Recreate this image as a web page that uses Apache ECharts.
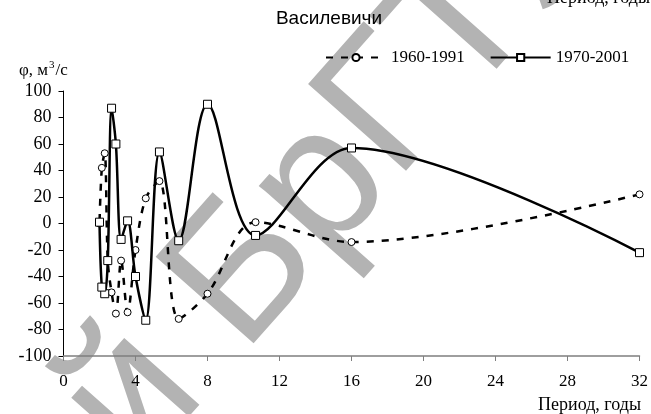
<!DOCTYPE html>
<html>
<head>
<meta charset="utf-8">
<script src="https://cdn.jsdelivr.net/npm/echarts@6/dist/echarts.min.js"></script>
<style>html,body{margin:0;padding:0;background:#fff;}#c{width:651px;height:414px;}</style>
</head>
<body>
<div id="c"></div>
<script>
// Period, years (x)
const periods = [32, 16, 10.67, 8, 6.4, 5.33, 4.57, 4, 3.56, 3.2, 2.91, 2.67, 2.46, 2.29, 2.13, 2.0];
// phi, m3/s
const phi1960 = [22, -14, 1, -53, -72, 32, 19, -20, -67, -28, -68, -52, -28, 53, 42, 0];
const phi1970 = [-22, 57, -9, 90, -13, 54, -73, -40, 2, -12, 60, 87, -28, -53, -48, 1];
const seriesNames = ['1960-1991', '1970-2001'];
const titleText = 'Василевичи';
const xName = 'Период, годы';
const watermarkLeft = 'Репозиторий ';
const watermarkRight = 'БрГТУ';

const serif = '"Liberation Serif", "Times New Roman", serif';
const sans = '"Liberation Sans", Arial, sans-serif';

const chart = echarts.init(document.getElementById('c'), null, {renderer: 'canvas'});
const rot = 48.5 * Math.PI / 180;
const wmStyle = {fontFamily: sans, fontSize: 190, fill: '#b3b3b3'};
chart.setOption({
  animation: false,
  backgroundColor: '#fff',
  grid: {left: 63.5, right: 11.5, top: 91, bottom: 58},
  legend: {
    data: seriesNames,
    left: 320, top: 44,
    itemWidth: 60, itemHeight: 9, itemGap: 25,
    textStyle: {fontFamily: serif, fontSize: 17, color: '#000'}
  },
  xAxis: {
    type: 'value', min: 0, max: 32, interval: 4,
    axisLine: {show: true, onZero: false, lineStyle: {color: '#7f7f7f', width: 1.5}},
    axisTick: {show: true, length: 5, lineStyle: {color: '#7f7f7f'}},
    splitLine: {show: false},
    axisLabel: {fontFamily: serif, fontSize: 17, color: '#000', margin: 17}
  },
  yAxis: {
    type: 'value', min: -100, max: 100, interval: 20,
    axisLine: {show: true, onZero: false, lineStyle: {color: '#000', width: 1}},
    axisTick: {show: true, length: 5, lineStyle: {color: '#000'}},
    splitLine: {show: false},
    axisLabel: {fontFamily: serif, fontSize: 18, color: '#000', margin: 12}
  },
  graphic: [
    {type: 'text', z: 0, x: 203.9, y: 320.4, rotation: rot,
     style: Object.assign({text: watermarkLeft, align: 'right', verticalAlign: 'middle'}, wmStyle)},
    {type: 'text', z: 0, x: 203.9, y: 320.4, rotation: rot,
     style: Object.assign({text: watermarkRight, align: 'left', verticalAlign: 'middle'}, wmStyle)},
    {type: 'text', z: 10, x: 329, y: 19,
     style: {text: titleText, fontFamily: sans, fontSize: 19, fill: '#000', align: 'center', verticalAlign: 'middle'}},
    {type: 'text', z: 10, x: 19, y: 71,
     style: {text: '{a|φ, м}{s|3}{a|/с}', fontFamily: serif, fill: '#000', verticalAlign: 'middle',
       rich: {a: {fontFamily: serif, fontSize: 17, fill: '#000'}, s: {fontFamily: serif, fontSize: 11, fill: '#000', padding: [0, 1, 12, 1]}}}},
    {type: 'text', z: 10, x: 641, y: 405,
     style: {text: xName, fontFamily: serif, fontSize: 18, fill: '#000', align: 'right', verticalAlign: 'middle'}},
    {type: 'text', z: 10, x: 650, y: -2,
     style: {text: xName, fontFamily: serif, fontSize: 18, fill: '#000', align: 'right', verticalAlign: 'middle'}}
  ],
  series: [
    {
      name: seriesNames[0], type: 'line', z: 3,
      data: periods.map((p, i) => [p, phi1960[i]]),
      smooth: 0.33,
      symbol: 'circle', symbolSize: 7,
      itemStyle: {color: '#fff', borderColor: '#000', borderWidth: 1},
      lineStyle: {color: '#000', width: 2.5, type: [7, 8]}
    },
    {
      name: seriesNames[1], type: 'line', z: 4,
      data: periods.map((p, i) => [p, phi1970[i]]),
      smooth: 0.33,
      symbol: 'rect', symbolSize: 8,
      itemStyle: {color: '#fff', borderColor: '#000', borderWidth: 1},
      lineStyle: {color: '#000', width: 2.5}
    }
  ]
});
</script>
</body>
</html>
